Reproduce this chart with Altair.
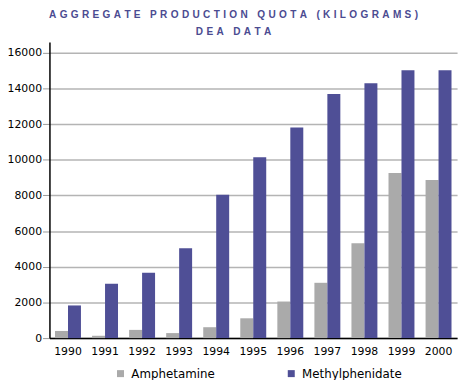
import altair as alt
import pandas as pd

years = ["1990", "1991", "1992", "1993", "1994", "1995", "1996", "1997", "1998", "1999", "2000"]
amphetamine = [400, 130, 460, 280, 610, 1110, 2050, 3100, 5320, 9250, 8860]
methylphenidate = [1830, 3050, 3660, 5040, 8030, 10140, 11800, 13680, 14290, 15010, 15010]
series = ["Amphetamine", "Methylphenidate"]
colors = ["#aaaaaa", "#4f4f96"]
y_ticks = [0, 2000, 4000, 6000, 8000, 10000, 12000, 14000, 16000]

rows = []
for i, yr in enumerate(years):
    rows.append({"year": yr, "drug": series[0], "kg": amphetamine[i]})
    rows.append({"year": yr, "drug": series[1], "kg": methylphenidate[i]})
df = pd.DataFrame(rows)

GAP = "\u2004"

def spaced(s):
    return GAP.join(list(s)).replace(GAP + " " + GAP, GAP + "  " + GAP)

font = "DejaVu Sans"

chart = alt.Chart(df).mark_bar().encode(
    x=alt.X("year:N", sort=years,
            scale=alt.Scale(paddingInner=0.3, paddingOuter=0.15),
            axis=alt.Axis(title=None, labelAngle=0, ticks=False, domain=True,
                          domainColor="black", domainWidth=1.5, labelFont=font,
                          labelFontSize=11, labelColor="black", labelPadding=8, grid=False)),
    xOffset=alt.XOffset("drug:N", sort=series),
    y=alt.Y("kg:Q", scale=alt.Scale(domain=[0, 16600], nice=False),
            axis=alt.Axis(title=None, values=y_ticks, format="d", grid=True, gridColor="#b4b4b4",
                          gridWidth=1.5, tickColor="#999999", tickSize=7, tickWidth=1,
                          domainColor="black", domainWidth=1.5, labelFont=font,
                          labelFontSize=11, labelColor="black", labelPadding=1)),
    color=alt.Color("drug:N", sort=series,
                    scale=alt.Scale(domain=series, range=colors),
                    legend=alt.Legend(title=None, orient="none", legendX=66, legendY=330,
                                      direction="horizontal", symbolType="square",
                                      symbolSize=50, symbolStrokeWidth=0, labelFont=font,
                                      labelFontSize=12, labelColor="black", columnPadding=71,
                                      labelOffset=5)),
).properties(
    width=413,
    height=300,
    padding={"left": 42, "top": 32, "right": 5, "bottom": 40},
    autosize=alt.AutoSizeParams(type="none"),
    title=alt.Title(
        [spaced("AGGREGATE PRODUCTION QUOTA (KILOGRAMS)"), spaced("DEA DATA")],
        font="Liberation Sans", fontSize=10.2, fontWeight="bold", color="#4b4b91",
        anchor="middle", dx=-20, offset=5, lineHeight=17,
    ),
).configure_view(stroke=None)

chart.save("out.html", embed_options={"renderer": "svg", "actions": False})
